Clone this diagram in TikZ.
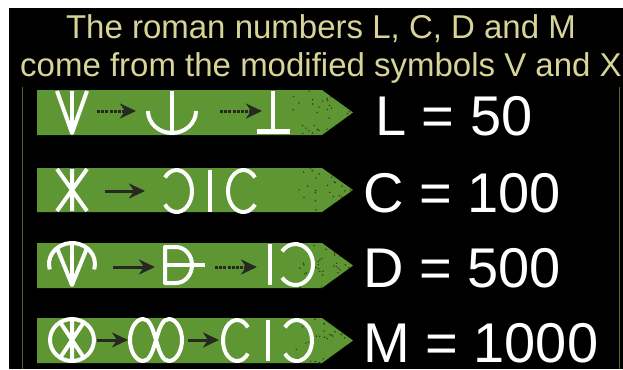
\documentclass[tikz,border=0pt]{standalone}
\usepackage{fontspec}
\setmainfont{Liberation Sans}
\usetikzlibrary{arrows.meta}
\definecolor{bgreen}{RGB}{95,150,52}
\definecolor{titlecol}{RGB}{214,212,150}
\definecolor{linegreen}{RGB}{75,105,40}
\definecolor{arrowcol}{RGB}{40,40,35}
\definecolor{dotcol}{RGB}{35,60,25}
\newcommand\bannerpath[2]{(37,#1) -- (322,#1) -- (353,{(#1+#2)/2}) -- (322,#2) -- (37,#2) -- cycle}
\begin{document}
\begin{tikzpicture}[x=1pt,y=-1pt,
  glyph/.style={white,line width=4pt,line cap=butt,line join=round},
  conn/.style={arrowcol,line width=3pt,-{Stealth[length=16pt,width=15pt,inset=5pt]}},
  dconn/.style={conn,dash pattern=on 3pt off 1.2pt},
  banner/.style={fill=bgreen},
  titletext/.style={titlecol,font=\fontsize{33}{40}\selectfont,anchor=base,inner sep=0pt},
  valuetext/.style={white,font=\fontsize{56}{60}\selectfont,anchor=base west,inner sep=0pt,text depth=0pt},
  speck/.style={fill=dotcol}]
\useasboundingbox (0,0) rectangle (623,369);
\fill[white] (0,0) rectangle (623,369);
\fill[black] (9,8) rectangle (623,369);
\draw[linegreen,line width=1pt] (22,87) -- (22,369) (619,87) -- (619,369);

% title
\node[titletext] (t1) at (321,39) {The roman numbers L, C, D and M};
\node[titletext] (t2) at (321,77) {come from the modified symbols V and X};

% banners
\pgfmathsetseed{42}
\foreach \ya/\yb in {90/135,168/212,243/288,318/363}{
  \fill[banner] \bannerpath{\ya}{\yb};
  \begin{scope}
    \clip \bannerpath{\ya}{\yb};
    \foreach \i in {1,...,42}{
      \fill[speck] ({285+68*sqrt(rnd)},{\ya+(\yb-\ya)*rnd}) circle (0.8pt);
    }
  \end{scope}
}

% ---------- row 1 ----------
\draw[glyph] (57,91) -- (72,133) -- (87,91);
\draw[glyph] (72,91) -- (72,133);
\draw[glyph] (148,111) arc[start angle=180,end angle=0,x radius=24,y radius=22];
\draw[glyph] (172,91) -- (172,135);
\draw[glyph] (273,91) -- (273,131);
\draw[glyph,line width=5pt] (257,131) -- (290,131);
\coordinate (a1s) at (97,111);  \coordinate (a1e) at (136,111);
\coordinate (a2s) at (220,111); \coordinate (a2e) at (262,111);
\draw[dconn] (a1s) -- (a1e);
\draw[dconn] (a2s) -- (a2e);

% ---------- row 2 ----------
\draw[glyph] (57,169) -- (87,211) (87,169) -- (57,211) (72,169) -- (72,211);
\draw[glyph] (176.7,191) ++(140:15.3 and 21) arc[start angle=140,end angle=-140,x radius=15.3,y radius=21];
\draw[glyph] (210,170) -- (210,212);
\draw[glyph] (243.3,191) ++(40:15.3 and 21) arc[start angle=40,end angle=320,x radius=15.3,y radius=21];
\coordinate (b1s) at (105,191); \coordinate (b1e) at (145,191);
\draw[conn] (b1s) -- (b1e);

% ---------- row 3 ----------
\draw[glyph] (57,248) -- (72,285) -- (87,248);
\draw[glyph] (72,244) -- (72,285);
\draw[glyph] (72,264) ++(165:23 and 21) arc[start angle=165,end angle=375,x radius=23,y radius=21];
\draw[glyph] (176,247) -- (165,247) -- (165,283) -- (176,283)
  arc[start angle=90,end angle=-90,x radius=16,y radius=18];
\draw[glyph] (163,265) -- (205,265);
\draw[glyph] (270,244) -- (270,285);
\draw[glyph] (295.5,264.5) ++(140:17.5 and 20.5) arc[start angle=140,end angle=-140,x radius=17.5,y radius=20.5];
\coordinate (c1s) at (113,267); \coordinate (c1e) at (155,267);
\coordinate (c2s) at (215,267); \coordinate (c2e) at (257,267);
\draw[conn] (c1s) -- (c1e);
\draw[dconn] (c2s) -- (c2e);

% ---------- row 4 ----------
\draw[glyph] (72,340) ellipse[x radius=22,y radius=21];
\draw[glyph] (60,322) -- (84,358) (84,322) -- (60,358) (72,319) -- (72,361);
\draw[glyph] (156,340) .. controls (160,326) and (163,319) .. (169,319)
  .. controls (176,319) and (182,329) .. (182,340)
  .. controls (182,351) and (176,361) .. (169,361)
  .. controls (163,361) and (160,354) .. (156,340)
  .. controls (152,326) and (149,319) .. (143,319)
  .. controls (136,319) and (130,329) .. (130,340)
  .. controls (130,351) and (136,361) .. (143,361)
  .. controls (149,361) and (152,354) .. (156,340);
\draw[glyph] (237.1,340.5) ++(40:14.1 and 20.5) arc[start angle=40,end angle=320,x radius=14.1,y radius=20.5];
\draw[glyph] (268,320) -- (268,361);
\draw[glyph] (296.7,340.5) ++(140:15.3 and 20.5) arc[start angle=140,end angle=-140,x radius=15.3,y radius=20.5];
\coordinate (d1s) at (97,340);  \coordinate (d1e) at (128,340);
\coordinate (d2s) at (188,340); \coordinate (d2e) at (219,340);
\draw[conn] (d1s) -- (d1e);
\draw[conn] (d2s) -- (d2e);

% values
\node[valuetext] (v1) at (375,135) {L = 50};
\node[valuetext] (v2) at (363,212) {C = 100};
\node[valuetext] (v3) at (363,287) {D = 500};
\node[valuetext] (v4) at (363,362) {M = 1000};
\end{tikzpicture}
\end{document}
